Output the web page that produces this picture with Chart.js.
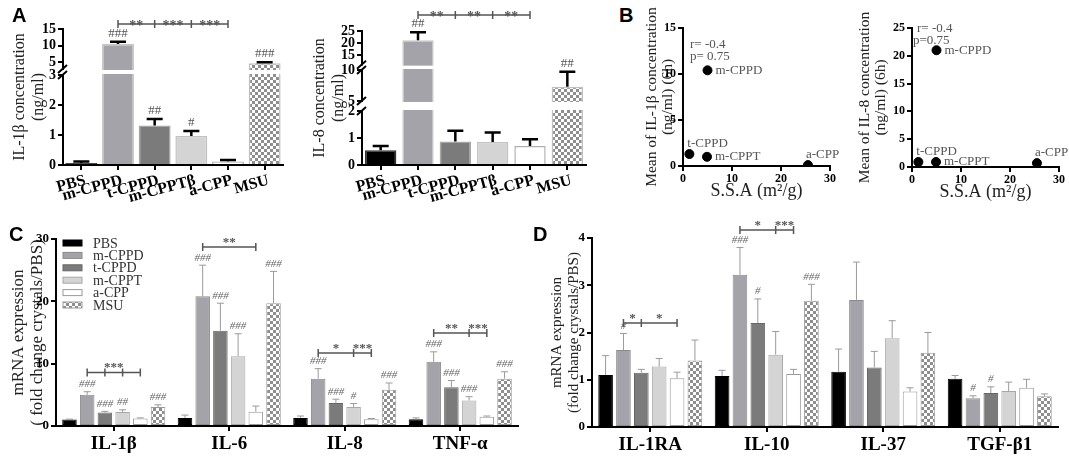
<!DOCTYPE html>
<html>
<head>
<meta charset="utf-8">
<script src="https://cdn.jsdelivr.net/npm/chart.js@4.4.0/dist/chart.umd.min.js"></script>
<style>
  body { margin: 0; background: #fff; }
  #fig { position: relative; width: 1069px; height: 456px; overflow: hidden; background: #fff; }
  .box { position: absolute; }
  .tag { position: absolute; font: bold 20px 'Liberation Sans', Arial, sans-serif; line-height: 20px; color: #000; }
</style>
</head>
<body>
<div id="fig">
  <div class="box" style="left:0;top:5px;width:292px;height:197px"><canvas id="il1b-conc"></canvas></div>
  <div class="box" style="left:300px;top:11px;width:295px;height:191px"><canvas id="il8-conc"></canvas></div>
  <div class="box" style="left:640px;top:0;width:202px;height:202px"><canvas id="ssa-il1b"></canvas></div>
  <div class="box" style="left:853px;top:0;width:215px;height:203px"><canvas id="ssa-il8"></canvas></div>
  <div class="box" style="left:0;top:213px;width:520px;height:243px"><canvas id="mrna-pro"></canvas></div>
  <div class="box" style="left:540px;top:212px;width:520px;height:244px"><canvas id="mrna-anti"></canvas></div>
  <div class="tag" style="left:12px;top:5px">A</div>
  <div class="tag" style="left:619px;top:5px">B</div>
  <div class="tag" style="left:9px;top:224px">C</div>
  <div class="tag" style="left:533px;top:224px">D</div>
</div>
<script>
'use strict';

// ---------- values ----------
var crystals = ['PBS', 'm-CPPD', 't-CPPD', 'm-CPPTβ', 'a-CPP', 'MSU'];

// A - protein at 6h (ng/ml)
var il1bConc = [0.07, 10.5, 1.32, 0.97, 0.12, 4.75];
var il1bConcErr = [0.05, 0.7, 0.21, 0.16, 0.05, 0.3];
var il1bConcHash = ['', '###', '##', '#', '', '###'];
var il1bTicks = [0, 1, 2, 3, 5, 10, 15];

var il8Conc = [0.55, 21.2, 0.87, 0.85, 0.7, 7.3];
var il8ConcErr = [0.15, 3.3, 0.4, 0.35, 0.25, 2.4];
var il8ConcHash = ['', '##', '', '', '', '##'];
var il8Ticks = [0, 1, 2, 5, 10, 15, 20, 25];

// B - specific surface area vs mean concentration
var ssaNames = ['m-CPPD', 't-CPPD', 'm-CPPT', 'a-CPP'];
var ssa = [5.0, 1.3, 4.9, 25.5];
var meanIl1b = [10.4, 1.3, 1.0, 0.1];
var meanIl8 = [21.0, 0.9, 0.9, 0.7];
var statIl1b = ['r= -0.4', 'p= 0.75'];
var statIl8 = ['r= -0.4', 'p=0.75'];

// C - pro-inflammatory mRNA (fold change crystals/PBS)
var seriesNames = ['PBS', 'm-CPPD', 't-CPPD', 'm-CPPT', 'a-CPP', 'MSU'];
var groupsC = ['IL-1β', 'IL-6', 'IL-8', 'TNF-α'];
var cPbs = [1.05, 1.3, 1.3, 1.1];
var cMcppd = [5.0, 20.8, 7.6, 10.3];
var cTcppd = [2.15, 15.3, 3.7, 6.2];
var cMcppt = [2.25, 11.2, 3.05, 4.1];
var cAcpp = [1.2, 2.3, 1.1, 1.5];
var cMsu = [3.05, 19.7, 5.8, 7.6];
var cPbsErr = [0.05, 0.45, 0.3, 0.2];
var cMcppdErr = [0.5, 5.0, 1.6, 1.6];
var cTcppdErr = [0.2, 4.4, 0.6, 1.1];
var cMcpptErr = [0.35, 3.6, 0.55, 0.6];
var cAcppErr = [0.1, 0.9, 0.1, 0.1];
var cMsuErr = [0.35, 5.1, 1.1, 1.1];
var cMcppdHash = ['###', '###', '###', '###'];
var cTcppdHash = ['###', '###', '###', '###'];
var cMcpptHash = ['##', '###', '#', '###'];
var cMsuHash = ['###', '###', '###', '###'];

// D - anti-inflammatory mRNA
var groupsD = ['IL-1RA', 'IL-10', 'IL-37', 'TGF-β1'];
var dPbs = [1.1, 1.08, 1.17, 1.02];
var dMcppd = [1.63, 3.22, 2.69, 0.61];
var dTcppd = [1.15, 2.2, 1.26, 0.72];
var dMcppt = [1.28, 1.53, 1.88, 0.76];
var dAcpp = [1.03, 1.12, 0.75, 0.83];
var dMsu = [1.41, 2.67, 1.57, 0.65];
var dPbsErr = [0.41, 0.12, 0.48, 0.07];
var dMcppdErr = [0.35, 0.58, 0.8, 0.05];
var dTcppdErr = [0.07, 0.51, 0.34, 0.13];
var dMcpptErr = [0.17, 0.49, 0.37, 0.19];
var dAcppErr = [0.13, 0.1, 0.08, 0.18];
var dMsuErr = [0.43, 0.35, 0.43, 0.05];
var dMcppdHash = ['#', '###', '', '#'];
var dTcppdHash = ['', '#', '', '#'];
var dMsuHash = ['', '###', '', ''];

// significance brackets: bar indices, level (axis units), stars per span
var bracketsA1 = [{ bars: [1, 2, 3, 4], at: 16.5, marks: ['**', '***', '***'] }];
var bracketsA2 = [{ bars: [1, 2, 3, 4], at: 31.7, marks: ['**', '**', '**'] }];
var bracketsC = [
    { cat: 0, bars: [1, 2, 3, 4], at: 8.6, marks: ['', '***', ''] },
    { cat: 1, bars: [1, 4], at: 28.7, marks: ['**'] },
    { cat: 2, bars: [1, 3, 4], at: 11.7, marks: ['*', '***'] },
    { cat: 3, bars: [1, 3, 4], at: 14.9, marks: ['**', '***'] }
];
var bracketsD = [
    { cat: 0, bars: [1, 2, 4], at: 2.2, marks: ['*', '*'] },
    { cat: 1, bars: [1, 3, 4], at: 4.17, marks: ['*', '***'] }
];

// ---------- shared style ----------
var serif = "'Liberation Serif', 'Times New Roman', serif";
Chart.defaults.font.family = serif;
Chart.defaults.color = '#000';
Chart.defaults.animation = false;

function checker() {
    var c = document.createElement('canvas');
    c.width = 6; c.height = 6;
    var g = c.getContext('2d');
    g.fillStyle = '#ffffff'; g.fillRect(0, 0, 6, 6);
    g.fillStyle = '#8e8e8e'; g.fillRect(0, 0, 3, 3); g.fillRect(3, 3, 3, 3);
    return g.createPattern(c, 'repeat');
}
var fills = ['#000000', '#a3a3a9', '#7b7b7b', '#d4d4d4', '#ffffff', checker()];
var edgesA = ['#333333', '#c6c6c8', '#a6a6a6', '#c2c2c2', '#b0b0b0', '#c0c0c0'];
var edgesC = ['#000000', '#8a8a8a', '#666666', '#a8a8a8', '#999999', '#999999'];

var axisLine = { display: true, color: '#000', width: 2 };
var tickMarks = { display: true, drawOnChartArea: false, drawTicks: true, tickLength: 5, color: '#000', lineWidth: 2 };

// piecewise linear axis for the broken y axes of panel A
var axisBreaks = {
    'il1b-conc': [{ from: 0, to: 3, d0: 0, d1: 0.662 }, { from: 3, to: 15, d0: 0.706, d1: 1 }],
    'il8-conc': [{ from: 0, to: 2, d0: 0, d1: 0.403 }, { from: 5, to: 10, d0: 0.478, d1: 0.709 },
                 { from: 11, to: 25, d0: 0.749, d1: 1 }]
};
class BrokenScale extends Chart.LinearScale {
    static id = 'broken';
    static defaults = {};
    getPixelForValue(value) {
        var segs = axisBreaks[this.chart.canvas.id];
        var s = segs[segs.length - 1];
        for (var k = 0; k < segs.length; k++) {
            if (value <= segs[k].to) { s = segs[k]; break; }
        }
        return this.getPixelForDecimal(s.d0 + (value - s.from) / (s.to - s.from) * (s.d1 - s.d0));
    }
}
Chart.register(BrokenScale);

// error bars, break gaps, # marks and significance brackets
function decor(o) {
    return {
        id: 'decor',
        afterDatasetsDraw: function (chart) {
            var ctx = chart.ctx, ys = chart.scales.y, area = chart.chartArea;
            var barOf = function (d, i) { return chart.getDatasetMeta(d).data[i]; };
            var tops = [];
            ctx.save();
            ctx.strokeStyle = o.errColor;
            ctx.lineWidth = o.errWidth;
            o.errors.forEach(function (errs, d) {
                tops[d] = [];
                var vals = chart.data.datasets[d].data;
                errs.forEach(function (e, i) {
                    var bar = barOf(d, i);
                    var yTop = ys.getPixelForValue(vals[i] + e);
                    tops[d][i] = yTop;
                    ctx.beginPath();
                    ctx.moveTo(bar.x, bar.y); ctx.lineTo(bar.x, yTop);
                    ctx.moveTo(bar.x - o.cap / 2, yTop); ctx.lineTo(bar.x + o.cap / 2, yTop);
                    ctx.stroke();
                });
            });

            var segs = axisBreaks[chart.canvas.id];
            if (segs) {
                for (var k = 0; k < segs.length - 1; k++) {
                    var yLow = ys.getPixelForDecimal(segs[k].d1);
                    var yHigh = ys.getPixelForDecimal(segs[k + 1].d0);
                    ctx.fillStyle = '#fff';
                    ctx.fillRect(area.left - 4, yHigh + 1, area.right - area.left + 8, yLow - yHigh - 2);
                    ctx.strokeStyle = '#000';
                    ctx.lineWidth = 2;
                    ctx.beginPath();
                    [yLow, yHigh].forEach(function (yy) {
                        ctx.moveTo(area.left - 5, yy + 4); ctx.lineTo(area.left + 4, yy - 4);
                    });
                    ctx.stroke();
                }
            }

            ctx.font = o.hashFont;
            ctx.fillStyle = o.hashColor;
            ctx.textAlign = 'center';
            ctx.textBaseline = 'bottom';
            o.hashes.forEach(function (hs, d) {
                if (!hs) return;
                hs.forEach(function (h, i) {
                    if (!h) return;
                    ctx.fillText(h, barOf(d, i).x, tops[d][i] - 2);
                });
            });

            o.brackets.forEach(function (br) {
                var xs = br.bars.map(function (b) {
                    return (br.cat === undefined ? barOf(0, b) : barOf(b, br.cat)).x;
                });
                var yy = ys.getPixelForValue(br.at);
                ctx.strokeStyle = o.brColor;
                ctx.lineWidth = 1.5;
                ctx.beginPath();
                ctx.moveTo(xs[0], yy); ctx.lineTo(xs[xs.length - 1], yy);
                xs.forEach(function (x) { ctx.moveTo(x, yy - 4); ctx.lineTo(x, yy + 4); });
                ctx.stroke();
                ctx.font = o.starFont;
                ctx.fillStyle = o.brColor;
                ctx.textBaseline = 'alphabetic';
                br.marks.forEach(function (m, j) {
                    if (m) ctx.fillText(m, (xs[j] + xs[j + 1]) / 2, yy + o.starDy);
                });
            });
            ctx.restore();
        }
    };
}

// ---------- panel A ----------
function concChart(id, vals, errs, hashes, ticks, brackets, title, yWidth, padTop, barPct) {
    return new Chart(document.getElementById(id), {
        type: 'bar',
        data: {
            labels: crystals,
            datasets: [{
                data: vals,
                backgroundColor: fills,
                borderColor: edgesA,
                borderWidth: 1.5,
                categoryPercentage: 1,
                barPercentage: barPct
            }]
        },
        options: {
            responsive: true,
            maintainAspectRatio: false,
            layout: { padding: { top: padTop, right: 9, left: 0, bottom: 0 } },
            plugins: { legend: { display: false }, tooltip: { enabled: false } },
            scales: {
                x: {
                    grid: Object.assign({}, tickMarks, { offset: false }),
                    border: axisLine,
                    ticks: { font: { size: 16, weight: 'bold' }, minRotation: 15, maxRotation: 15, autoSkip: false, padding: 1, labelOffset: 4 },
                    afterFit: function (s) { s.height = 37; }
                },
                y: {
                    type: 'broken',
                    min: 0,
                    max: ticks[ticks.length - 1],
                    afterBuildTicks: function (s) { s.ticks = ticks.map(function (v) { return { value: v }; }); },
                    grid: tickMarks,
                    border: axisLine,
                    ticks: { font: { size: 14, weight: 'bold' }, padding: 2, autoSkip: false },
                    title: { display: true, text: title, color: '#222', font: { size: 16, lineHeight: 1.2 }, padding: { top: 10, bottom: 0 } },
                    afterFit: function (s) { s.width = yWidth; }
                }
            }
        },
        plugins: [decor({
            errors: [errs], errColor: '#000', errWidth: 2.5, cap: 16,
            hashes: [hashes], hashFont: '13px ' + serif, hashColor: '#555',
            brackets: brackets, brColor: '#555', starFont: 'bold 14px ' + serif, starDy: 6
        })]
    });
}

concChart('il1b-conc', il1bConc, il1bConcErr, il1bConcHash, il1bTicks, bracketsA1,
    ['IL-1β concentration', '(ng/ml)'], 63, 24, 0.87);
concChart('il8-conc', il8Conc, il8ConcErr, il8ConcHash, il8Ticks, bracketsA2,
    ['IL-8 concentration', '(ng/ml)'], 62, 20, 0.84);

// ---------- panel B ----------
function pointLabels(names) {
    return {
        id: 'pointLabels',
        afterDatasetsDraw: function (chart) {
            var ctx = chart.ctx;
            ctx.save();
            ctx.font = '13px ' + serif;
            ctx.fillStyle = '#555';
            chart.getDatasetMeta(0).data.forEach(function (pt, i) {
                var right = names[i].indexOf('m-') === 0;
                ctx.textAlign = 'left';
                ctx.textBaseline = right ? 'middle' : 'bottom';
                if (right) ctx.fillText(names[i], pt.x + 8, pt.y);
                else ctx.fillText(names[i], pt.x - 2, pt.y - 4);
            });
            ctx.restore();
        }
    };
}
function statText(lines, dx, dy) {
    return {
        id: 'statText',
        afterDraw: function (chart) {
            var ctx = chart.ctx, a = chart.chartArea;
            ctx.save();
            ctx.font = '13px ' + serif;
            ctx.fillStyle = '#555';
            ctx.textAlign = 'left';
            ctx.textBaseline = 'middle';
            lines.forEach(function (t, i) { ctx.fillText(t, a.left + dx[i], a.top + dy + i * 12); });
            ctx.restore();
        }
    };
}
function ssaChart(id, yVals, yMax, title, yWidth, padRight, stat, dx, dy) {
    return new Chart(document.getElementById(id), {
        type: 'scatter',
        data: {
            datasets: [{
                data: ssa.map(function (x, i) { return { x: x, y: yVals[i] }; }),
                backgroundColor: '#000',
                borderColor: '#000',
                pointRadius: 4.5
            }]
        },
        options: {
            responsive: true,
            maintainAspectRatio: false,
            layout: { padding: { top: 28, right: padRight, left: 0, bottom: 0 } },
            plugins: { legend: { display: false }, tooltip: { enabled: false } },
            scales: {
                x: {
                    min: 0, max: 30,
                    grid: tickMarks,
                    border: axisLine,
                    ticks: { stepSize: 10, font: { size: 12, weight: 'bold' }, padding: 1 },
                    title: { display: true, text: 'S.S.A (m²/g)', color: '#222', font: { size: 18, lineHeight: 1 }, padding: { top: 0, bottom: 2 } },
                    afterFit: function (s) { s.height = 36; }
                },
                y: {
                    min: 0, max: yMax,
                    grid: tickMarks,
                    border: axisLine,
                    ticks: { stepSize: 5, font: { size: 12, weight: 'bold' }, padding: 2 },
                    title: { display: true, text: title, color: '#222', font: { size: 15.5, lineHeight: 1.05 }, padding: { top: 4, bottom: 0 } },
                    afterFit: function (s) { s.width = yWidth; }
                }
            }
        },
        plugins: [pointLabels(ssaNames), statText(stat, dx, dy)]
    });
}

ssaChart('ssa-il1b', meanIl1b, 15, ['Mean of IL-1β concentration', '(ng/ml) (6h)'], 43, 12, statIl1b, [7, 7], 17);
ssaChart('ssa-il8', meanIl8, 25, ['Mean of IL-8 concentration', '(ng/ml) (6h)'], 59, 9, statIl8, [5, 1], 1);

// ---------- panels C and D ----------
function legendBox() {
    return {
        id: 'legendBox',
        afterDraw: function (chart) {
            var ctx = chart.ctx, a = chart.chartArea;
            ctx.save();
            ctx.font = '14px ' + serif;
            ctx.textAlign = 'left';
            ctx.textBaseline = 'middle';
            chart.data.datasets.forEach(function (ds, k) {
                var y = a.top + 4 + k * 12.4;
                ctx.fillStyle = ds.backgroundColor;
                ctx.fillRect(a.left + 7, y - 3, 19, 6);
                ctx.strokeStyle = ds.borderColor;
                ctx.lineWidth = 1;
                ctx.strokeRect(a.left + 7, y - 3, 19, 6);
                ctx.fillStyle = '#333';
                ctx.fillText(ds.label, a.left + 37, y + 1);
            });
            ctx.restore();
        }
    };
}
function mrnaChart(id, groups, vals, errs, hashes, brackets, yMax, title, titleSize, yWidth, xHeight, withLegend) {
    var plugins = [decor({
        errors: errs, errColor: '#9a9a9a', errWidth: 1, cap: 7,
        hashes: hashes, hashFont: 'italic 11px ' + serif, hashColor: '#666',
        brackets: brackets, brColor: '#555', starFont: 'bold 13px ' + serif, starDy: -1
    })];
    if (withLegend) plugins.push(legendBox());
    return new Chart(document.getElementById(id), {
        type: 'bar',
        data: {
            labels: groups,
            datasets: vals.map(function (v, k) {
                return {
                    label: seriesNames[k],
                    data: v,
                    backgroundColor: fills[k],
                    borderColor: edgesC[k],
                    borderWidth: 1,
                    borderSkipped: false,
                    categoryPercentage: 0.92,
                    barPercentage: 0.82
                };
            })
        },
        options: {
            responsive: true,
            maintainAspectRatio: false,
            layout: { padding: { top: 26, right: 2, left: 0, bottom: 0 } },
            plugins: { legend: { display: false }, tooltip: { enabled: false } },
            scales: {
                x: {
                    grid: Object.assign({}, tickMarks, { offset: false }),
                    border: axisLine,
                    ticks: { font: { size: 19, weight: 'bold' }, padding: 2 },
                    afterFit: function (s) { s.height = xHeight; }
                },
                y: {
                    min: 0, max: yMax,
                    grid: tickMarks,
                    border: axisLine,
                    ticks: { stepSize: yMax === 30 ? 10 : 1, font: { size: 13, weight: 'bold' }, padding: 2 },
                    title: { display: true, text: title, color: '#222', font: { size: titleSize, lineHeight: 1.1 }, padding: { top: 9, bottom: 0 } },
                    afterFit: function (s) { s.width = yWidth; }
                }
            }
        },
        plugins: plugins
    });
}

mrnaChart('mrna-pro', groupsC,
    [cPbs, cMcppd, cTcppd, cMcppt, cAcpp, cMsu],
    [cPbsErr, cMcppdErr, cTcppdErr, cMcpptErr, cAcppErr, cMsuErr],
    [null, cMcppdHash, cTcppdHash, cMcpptHash, null, cMsuHash],
    bracketsC, 30, ['mRNA expression', '( fold change crystals/PBS)'], 17, 56, 30, true);

mrnaChart('mrna-anti', groupsD,
    [dPbs, dMcppd, dTcppd, dMcppt, dAcpp, dMsu],
    [dPbsErr, dMcppdErr, dTcppdErr, dMcpptErr, dAcppErr, dMsuErr],
    [null, dMcppdHash, dTcppdHash, null, null, dMsuHash],
    bracketsD, 4, ['mRNA expression', '(fold change crystals/PBS)'], 15, 52, 29, false);
</script>
</body>
</html>
